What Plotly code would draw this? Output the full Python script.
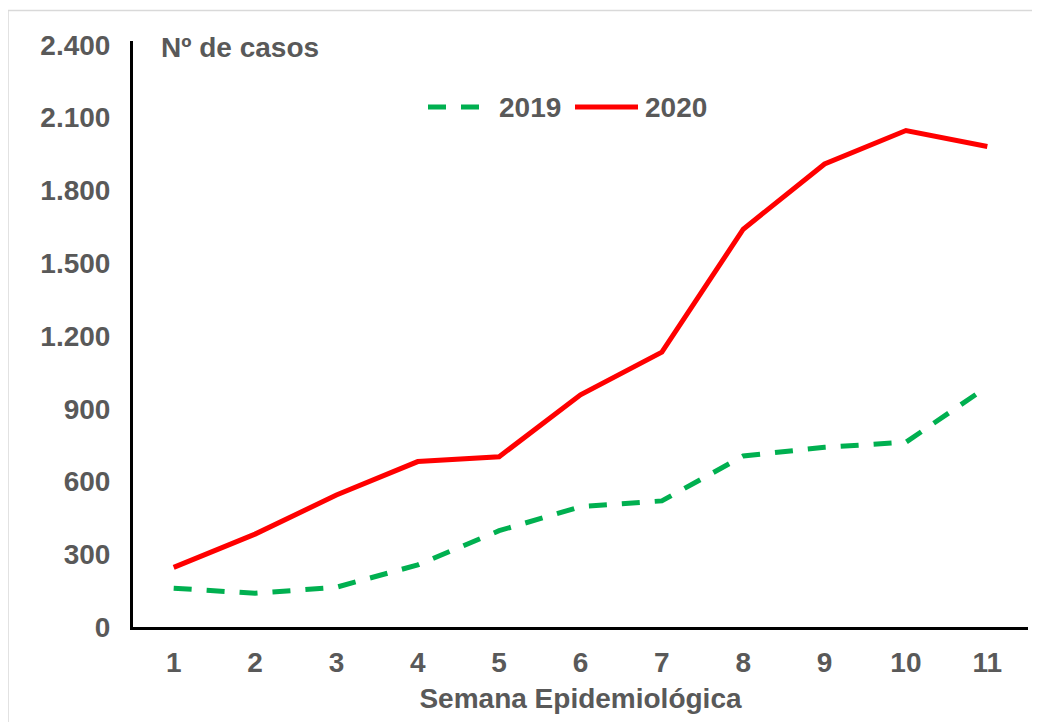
import plotly.graph_objects as go

semanas = [1, 2, 3, 4, 5, 6, 7, 8, 9, 10, 11]
casos_2019 = [160, 139, 164, 256, 397, 496, 520, 705, 741, 762, 991]
casos_2020 = [246, 383, 544, 682, 702, 957, 1133, 1640, 1909, 2047, 1981]
y_ticks = [0, 300, 600, 900, 1200, 1500, 1800, 2100, 2400]
series_names = ["2019", "2020"]
series_colors = ["#00B050", "#FF0000"]
series_dash = ["18px,15px", "solid"]

FONT = "Liberation Sans, Arial, sans-serif"
GRAY = "#595959"
OFF = 8  # page body margin
# plot area in page pixels
PX0, PX1, PY0, PY1 = 133, 1028, 41, 627
W, H = 1040, 722
L, T = PX0 - OFF, PY0 - OFF
R = W - (PX1 - OFF)
B = H - (PY1 - OFF)
PW, PH = PX1 - PX0, PY1 - PY0


def px_x(p):
    return (p - PX0) / PW


def px_y(p):
    return (PY1 - p) / PH


fig = go.Figure()
for name, vals, col, dash in zip(series_names, [casos_2019, casos_2020], series_colors, series_dash):
    fig.add_trace(go.Scatter(
        x=semanas, y=vals, mode="lines", name=name,
        line=dict(color=col, width=5, dash=dash), showlegend=False,
    ))

legend_items = [(428, 485, 497), (575, 638, 643)]
shapes = [dict(type="rect", xref="paper", yref="paper",
               x0=px_x(8), x1=px_x(1060), y0=px_y(740), y1=px_y(10.5),
               line=dict(color="#D9D9D9", width=1.5), layer="below")]
annotations = [dict(text="<b>Nº de casos</b>", xref="paper", yref="paper",
                    x=px_x(159), y=px_y(48), xanchor="left", yanchor="middle",
                    showarrow=False, font=dict(family=FONT, size=28, color=GRAY))]
for (x0, x1, xt), name, col, dash in zip(legend_items, series_names, series_colors, series_dash):
    shapes.append(dict(type="line", xref="paper", yref="paper",
                       x0=px_x(x0), x1=px_x(x1), y0=px_y(107), y1=px_y(107),
                       line=dict(color=col, width=5, dash=dash)))
    annotations.append(dict(text=f"<b>{name}</b>", xref="paper", yref="paper",
                            x=px_x(xt), y=px_y(107), xanchor="left", yanchor="middle",
                            showarrow=False, font=dict(family=FONT, size=28, color=GRAY)))

fig.update_layout(
    width=W, height=H,
    margin=dict(l=L, r=R, t=T, b=B, autoexpand=False),
    paper_bgcolor="white", plot_bgcolor="white",
    separators=",.",
    font=dict(family=FONT, size=28, color=GRAY),
    showlegend=False,
    xaxis=dict(
        range=[0.5, 11.5], tickmode="array", tickvals=semanas,
        ticktext=[str(s) for s in semanas], automargin=False,
        showgrid=False, zeroline=False, showline=True, linecolor="black", linewidth=3,
        ticks="", ticklabelstandoff=8,
        tickfont=dict(family=FONT, size=28, color=GRAY, weight="bold"),
        title=dict(text="<b>Semana Epidemiológica</b>", standoff=12,
                   font=dict(family=FONT, size=28, color=GRAY)),
    ),
    yaxis=dict(
        range=[0, 2416], tickmode="array", tickvals=y_ticks, tickformat=",d",
        automargin=False,
        showgrid=False, zeroline=False, showline=True, linecolor="black", linewidth=3,
        ticks="", ticklabelstandoff=14,
        tickfont=dict(family=FONT, size=28, color=GRAY, weight="bold"),
    ),
    shapes=shapes,
    annotations=annotations,
)

fig.write_html("out.html")
